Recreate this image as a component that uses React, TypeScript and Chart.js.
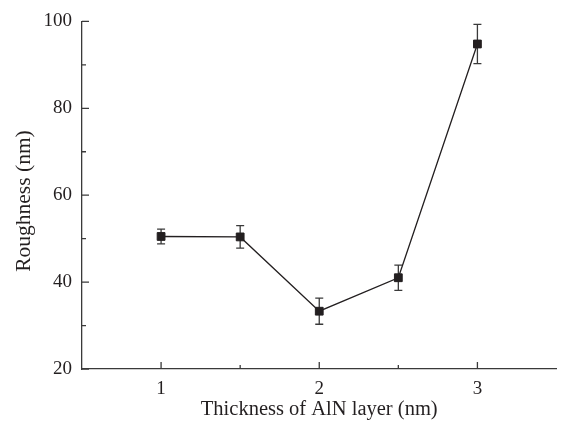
import React, { useEffect, useRef } from "react";
import { Chart, registerables } from "chart.js";

Chart.register(...registerables);

const thickness = [1, 1.5, 2, 2.5, 3];
const roughness = [50.5, 50.4, 33.3, 41.0, 94.8];
const roughnessErr = [1.7, 2.6, 3.0, 2.9, 4.5];
const xMajorTicks = [1, 2, 3];
const xMinorTicks = [1.5, 2.5];
const yMajorTicks = [20, 40, 60, 80, 100];
const yMinorTicks = [30, 50, 70, 90];
const xTitle = "Thickness of AlN layer (nm)";
const yTitle = "Roughness (nm)";

const INK = "#231f20";
const FONT = "'Liberation Serif', 'DejaVu Serif', serif";

export default function App() {
  const ref = useRef<HTMLCanvasElement | null>(null);
  useEffect(() => {
    document.body.style.margin = "0";
    const canvas = ref.current;
    if (!canvas) return;

    const decor = {
      id: "decor",
      beforeDatasetsDraw(chart: any) {
        const ctx = chart.ctx;
        const xs = chart.scales.x;
        const ys = chart.scales.y;
        ctx.save();
        ctx.strokeStyle = "#3a3a3a";
        ctx.lineWidth = 1.3;
        roughness.forEach((v, i) => {
          const px = xs.getPixelForValue(thickness[i]);
          const top = ys.getPixelForValue(v + roughnessErr[i]);
          const bot = ys.getPixelForValue(v - roughnessErr[i]);
          ctx.beginPath();
          ctx.moveTo(px, top);
          ctx.lineTo(px, bot);
          ctx.moveTo(px - 4, top);
          ctx.lineTo(px + 4, top);
          ctx.moveTo(px - 4, bot);
          ctx.lineTo(px + 4, bot);
          ctx.stroke();
        });
        ctx.restore();
      },
      afterDraw(chart: any) {
        const ctx = chart.ctx;
        const xs = chart.scales.x;
        const ys = chart.scales.y;
        const area = chart.chartArea;
        ctx.save();
        ctx.strokeStyle = "#3a3a3a";
        ctx.lineWidth = 1.3;
        ctx.beginPath();
        xMajorTicks.forEach((t) => {
          const p = xs.getPixelForValue(t);
          ctx.moveTo(p, area.bottom);
          ctx.lineTo(p, area.bottom - 7);
        });
        xMinorTicks.forEach((t) => {
          const p = xs.getPixelForValue(t);
          ctx.moveTo(p, area.bottom);
          ctx.lineTo(p, area.bottom - 4);
        });
        yMajorTicks.forEach((t) => {
          const p = ys.getPixelForValue(t);
          ctx.moveTo(area.left, p);
          ctx.lineTo(area.left + 7, p);
        });
        yMinorTicks.forEach((t) => {
          const p = ys.getPixelForValue(t);
          ctx.moveTo(area.left, p);
          ctx.lineTo(area.left + 4, p);
        });
        ctx.stroke();
        // y title
        ctx.fillStyle = INK;
        ctx.font = `21.5px ${FONT}`;
        ctx.textAlign = "center";
        ctx.textBaseline = "middle";
        ctx.translate(24, 201);
        ctx.rotate(-Math.PI / 2);
        ctx.fillText(yTitle, 0, 0);
        ctx.restore();
      },
    };

    const chart = new Chart(canvas, {
      type: "line",
      data: {
        datasets: [
          {
            data: thickness.map((x, i) => ({ x, y: roughness[i] })),
            borderColor: INK,
            borderWidth: 1.3,
            backgroundColor: INK,
            pointStyle: "rect",
            pointRadius: 5.5,
            pointBorderWidth: 1,
            pointBorderColor: INK,
            pointBackgroundColor: INK,
            tension: 0,
          },
        ],
      },
      plugins: [decor],
      options: {
        animation: false,
        responsive: false,
        devicePixelRatio: 1,
        layout: { padding: { top: 16, right: 5, left: 0, bottom: 0 } },
        plugins: { legend: { display: false }, tooltip: { enabled: false } },
        scales: {
          x: {
            type: "linear",
            min: 0.5,
            max: 3.5,
            afterFit: (s: any) => {
              s.height = 59;
            },
            afterBuildTicks: (s: any) => {
              s.ticks = xMajorTicks.map((value) => ({ value }));
            },
            grid: { display: true, drawOnChartArea: false, drawTicks: false },
            border: { display: true, color: "#3a3a3a", width: 1.3 },
            ticks: {
              color: INK,
              font: { family: FONT, size: 19 },
              padding: 9,
              maxRotation: 0,
            },
            title: {
              display: true,
              text: xTitle,
              color: INK,
              font: { family: FONT, size: 20.5 },
              padding: { top: 0, bottom: 6 },
            },
          },
          y: {
            type: "linear",
            min: 20,
            max: 100,
            afterFit: (s: any) => {
              s.width = 82;
            },
            afterBuildTicks: (s: any) => {
              s.ticks = yMajorTicks.map((value) => ({ value }));
            },
            grid: { display: true, drawOnChartArea: false, drawTicks: false },
            border: { display: true, color: "#3a3a3a", width: 1.3 },
            ticks: {
              color: INK,
              font: { family: FONT, size: 19 },
              padding: 10,
            },
          },
        },
      },
    });
    return () => chart.destroy();
  }, []);
  return <canvas ref={ref} width={563} height={428} style={{ display: "block" }} />;
}
